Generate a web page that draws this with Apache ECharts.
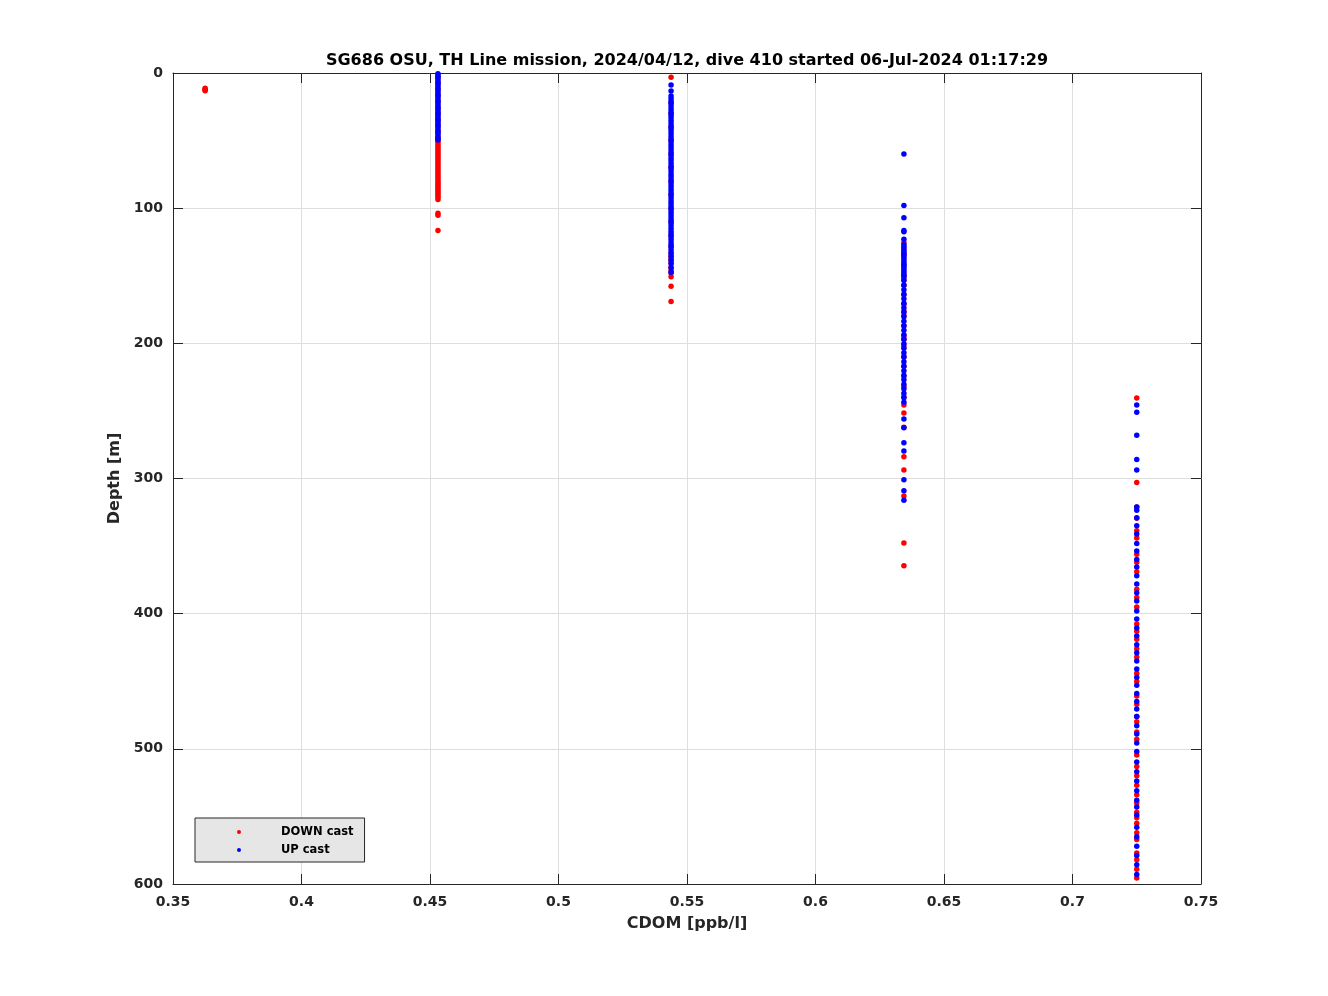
<!DOCTYPE html>
<html>
<head>
<meta charset="utf-8">
<script src="https://cdn.jsdelivr.net/npm/echarts@6/dist/echarts.min.js"></script>
<style>
html,body{margin:0;padding:0;background:#fff;}
#chart{width:1328px;height:996px;}
</style>
</head>
<body>
<div id="chart"></div>
<script>
// CDOM levels (quantized sensor values, ppb/l)
const cdomLevels = [0.3625, 0.4531, 0.5438, 0.6344, 0.7250];

// DOWN cast depths (m) per CDOM level
const downDepths = [
  [11.2, 12.0, 12.6, 13.1],
  [3, 7.5, 12, 16.5, 21, 25.5, 30, 34.5, 39, 43.5, 48,
   50, 51.5, 53, 54.5, 56, 57.5, 59, 60.5, 62, 63.5, 65, 66.5, 68, 69.5, 71, 72.5, 74, 75.5,
   77, 78.5, 80, 81.5, 83, 84.5, 86, 87.5, 89, 90.5, 92, 93.5, 103.8, 105.2, 116.6],
  [3.2, 22, 30, 40, 50, 60, 70, 80, 90, 100, 110, 120, 128,
   133, 135.5, 138, 140.6, 143.5, 146, 148, 150.8, 157.7, 169],
  [125.5, 134, 142, 150, 153, 157, 164, 171, 176, 179.5, 187, 194.5, 197, 202, 209.5, 217,
   224.5, 232, 239.5, 245.6, 251.5, 262, 284, 293.7, 313, 347.7, 364.5],
  [240.5, 303, 321, 329.5, 338.6, 344, 356, 362, 369, 382, 388, 395, 407.6, 413, 419, 426,
   432, 444, 450, 461, 467, 476, 480, 487.6, 493, 504.6, 513, 520, 527, 534, 540, 547, 551,
   555, 562, 567, 577, 582, 589, 595.6]
];

// UP cast depths (m) per CDOM level
const upDepths = [
  [],
  [0.5, 2, 3.5, 5, 6.5, 8, 9.5, 11, 12.5, 14, 15.5, 17, 18.5, 20, 21.5, 23, 24.5, 26, 27.5,
   29, 30.5, 32, 33.5, 35, 36.5, 38, 39.5, 41, 42.5, 44, 45.5, 47, 48.5, 49.6],
  [8.9, 13.3, 17, 19, 21, 23, 25, 27, 29, 31, 33, 35, 37, 39, 41, 43, 45, 47, 49, 51, 53, 55,
   57, 59, 61, 63, 65, 67, 69, 71, 73, 75, 77, 79, 81, 83, 85, 87, 89, 91, 93, 95, 97, 99,
   101, 103, 105, 107, 109, 111, 113, 115, 117, 119, 121, 123, 125, 127, 129, 131, 133.5,
   136, 138.5, 141, 144, 147.5],
  [60, 98, 107, 116.5, 117.5, 123, 127, 128.5, 130, 131.5, 133, 134.5, 136, 137.5, 139, 140.5,
   142, 143.5, 145, 146.5, 148, 149.5, 151, 153.5, 157, 160.3, 163.6, 167, 170.3, 173.6, 177,
   180.3, 183.6, 187, 190.3, 193.6, 197, 200.3, 203.6, 207, 210.3, 213.6, 217, 220.3, 223.6,
   227, 230.3, 233.6, 237, 240.3, 243.5,
   256, 262.5, 273.5, 279.6, 301, 309, 316],
  [245.6, 251, 268, 286, 293.7, 321, 323.5, 329, 335, 341, 348, 353.6, 360, 365.5, 372, 378,
   384.6, 390.6, 398, 404, 410.6, 416.5, 423, 429, 435, 441, 447, 453, 459, 465, 470.6, 476,
   483, 489, 495.7, 502, 509.7, 517, 523.8, 531, 538, 543, 549, 558, 565, 572, 579, 585.7, 593]
];

const xTicks = [0.35, 0.4, 0.45, 0.5, 0.55, 0.6, 0.65, 0.7, 0.75];
const yTicks = [0, 100, 200, 300, 400, 500, 600];

function pairs(depthLists) {
  const out = [];
  depthLists.forEach((list, i) => list.forEach(d => out.push([cdomLevels[i], d])));
  return out;
}

const FONT = 'DejaVu Sans';
const chart = echarts.init(document.getElementById('chart'), null, {renderer: 'canvas'});

const axisLineStyle = {color: '#262626', width: 1};

chart.setOption({
  animation: false,
  backgroundColor: '#ffffff',
  title: {
    text: 'SG686 OSU, TH Line mission, 2024/04/12, dive 410 started 06-Jul-2024 01:17:29',
    left: 687,
    top: 53,
    padding: 0,
    textAlign: 'center',
    textStyle: {fontFamily: FONT, fontWeight: 'bold', fontSize: 16, color: '#000'}
  },
  grid: {left: 173, right: 127, top: 73, bottom: 112, containLabel: false},
  legend: {
    orient: 'vertical',
    left: 195,
    top: 818,
    data: ['DOWN cast', 'UP cast'],
    icon: 'circle',
    itemWidth: 74,
    itemHeight: 4,
    itemGap: 6,
    padding: [8, 11, 6, 42],
    backgroundColor: '#e6e6e6',
    borderColor: '#262626',
    borderWidth: 1,
    borderRadius: 0,
    textStyle: {fontFamily: FONT, fontWeight: 'bold', fontSize: 11.5, color: '#000'}
  },
  xAxis: [{
    type: 'value',
    min: 0.35, max: 0.75, interval: 0.05,
    position: 'bottom',
    name: 'CDOM [ppb/l]',
    nameLocation: 'middle',
    nameGap: 32,
    nameTextStyle: {fontFamily: FONT, fontWeight: 'bold', fontSize: 16, color: '#262626'},
    axisLine: {show: true, onZero: false, lineStyle: axisLineStyle},
    axisTick: {show: true, inside: true, length: 10, lineStyle: axisLineStyle},
    axisLabel: {margin: 11, fontFamily: FONT, fontWeight: 'bold', fontSize: 14, color: '#262626',
      formatter: v => String(parseFloat(v.toFixed(2)))},
    splitLine: {show: true, lineStyle: {color: '#dedede', width: 1}}
  }, {
    type: 'value',
    min: 0.35, max: 0.75, interval: 0.05,
    position: 'top',
    axisLine: {show: true, onZero: false, lineStyle: axisLineStyle},
    axisTick: {show: true, inside: true, length: 10, lineStyle: axisLineStyle},
    axisLabel: {show: false},
    splitLine: {show: false}
  }],
  yAxis: [{
    type: 'value',
    inverse: true,
    min: 0, max: 600, interval: 100,
    position: 'left',
    name: 'Depth [m]',
    nameLocation: 'middle',
    nameGap: 43,
    nameRotate: 90,
    nameTextStyle: {fontFamily: FONT, fontWeight: 'bold', fontSize: 16, color: '#262626'},
    axisLine: {show: true, onZero: false, lineStyle: axisLineStyle},
    axisTick: {show: true, inside: true, length: 10, lineStyle: axisLineStyle},
    axisLabel: {margin: 10, padding: [6, 0, 0, 0], fontFamily: FONT, fontWeight: 'bold', fontSize: 14, color: '#262626'},
    splitLine: {show: true, lineStyle: {color: '#dedede', width: 1}}
  }, {
    type: 'value',
    inverse: true,
    min: 0, max: 600, interval: 100,
    position: 'right',
    axisLine: {show: true, onZero: false, lineStyle: axisLineStyle},
    axisTick: {show: true, inside: true, length: 10, lineStyle: axisLineStyle},
    axisLabel: {show: false},
    splitLine: {show: false}
  }],
  series: [{
    name: 'DOWN cast',
    type: 'scatter',
    xAxisIndex: 0, yAxisIndex: 0,
    symbol: 'circle',
    symbolSize: 5.5,
    itemStyle: {color: '#ff0000', opacity: 1},
    data: pairs(downDepths),
    z: 2
  }, {
    name: 'UP cast',
    type: 'scatter',
    xAxisIndex: 0, yAxisIndex: 0,
    symbol: 'circle',
    symbolSize: 5.5,
    itemStyle: {color: '#0000ff', opacity: 1},
    data: pairs(upDepths),
    z: 3
  }]
});
</script>
</body>
</html>
